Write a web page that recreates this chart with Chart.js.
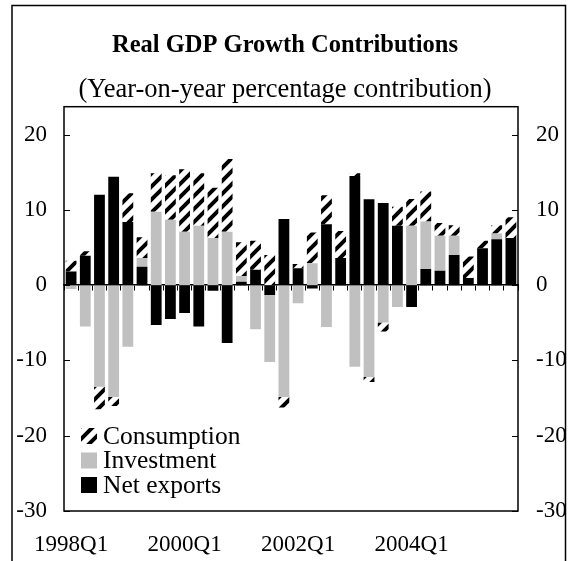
<!DOCTYPE html>
<html>
<head>
<meta charset="utf-8">
<script src="https://cdn.jsdelivr.net/npm/chart.js@4.4.1/dist/chart.umd.min.js"></script>
<style>
html,body{margin:0;padding:0;background:#fff;}
#wrap{width:570px;height:561px;position:relative;}
</style>
</head>
<body>
<div id="wrap"><canvas id="c" width="570" height="561"></canvas></div>
<script>
const categories = [
  '1998Q1','1998Q2','1998Q3','1998Q4','1999Q1','1999Q2','1999Q3','1999Q4',
  '2000Q1','2000Q2','2000Q3','2000Q4','2001Q1','2001Q2','2001Q3','2001Q4',
  '2002Q1','2002Q2','2002Q3','2002Q4','2003Q1','2003Q2','2003Q3','2003Q4',
  '2004Q1','2004Q2','2004Q3','2004Q4','2005Q1','2005Q2','2005Q3','2005Q4'
];
const xTickLabels = ['1998Q1','2000Q1','2002Q1','2004Q1'];
const yTickValues = [-30, -20, -10, 0, 10, 20];

const netExports = [
  1.8, 3.9, 12.0, 14.4, 8.4, 2.45, -5.3, -4.5,
  -3.7, -5.5, -0.75, -7.7, 0.45, 2.05, -1.3, 8.8,
  2.25, -0.45, 8.1, 3.6, 14.5, 11.4, 10.9, 7.9,
  -2.9, 2.15, 1.9, 4.0, 0.95, 4.9, 6.1, 6.25
];
const investment = [
  -0.5, -5.5, -13.5, -14.85, -8.2, 1.15, 9.75, 8.7,
  7.1, 7.9, 6.25, 7.1, 0.75, -5.85, -8.9, -14.85,
  -2.4, 2.9, -5.55, 0, -10.85, -12.2, -4.95, -2.9,
  7.9, 6.3, 4.65, 2.55, 0, 0, 0.75, 0
];
const consumption = [
  1.45, 0.6, -3.0, -1.2, 3.8, 2.75, 5.1, 5.9,
  8.3, 6.95, 6.7, 9.65, 4.5, 3.85, 4.0, -1.4,
  0.55, 4.1, 3.85, 3.6, 0.35, -0.65, -1.2, 2.5,
  3.55, 4.0, 1.7, 1.4, 2.85, 1.0, 1.1, 2.75
];

const SERIF = "'Liberation Serif', 'Times New Roman', serif";
Chart.defaults.font.family = SERIF;
Chart.defaults.color = '#000';

const canvas = document.getElementById('c');
const ctx0 = canvas.getContext('2d');

function makeHatch() {
  const s = 13;
  const t = document.createElement('canvas');
  t.width = s; t.height = s;
  const g = t.getContext('2d');
  g.fillStyle = '#fff';
  g.fillRect(0, 0, s, s);
  g.strokeStyle = '#000';
  g.lineWidth = 4;
  g.beginPath();
  g.moveTo(-1, s + 1); g.lineTo(s + 1, -1);
  g.moveTo(-s / 2 - 1, s / 2 + 1); g.lineTo(s / 2 + 1, -s / 2 - 1);
  g.moveTo(s / 2 - 1, s * 1.5 + 1); g.lineTo(s * 1.5 + 1, s / 2 - 1);
  g.stroke();
  return ctx0.createPattern(t, 'repeat');
}
const hatch = makeHatch();

const framePlugin = {
  id: 'frame',
  beforeDraw(chart) {
    const c = chart.ctx;
    c.save();
    c.fillStyle = '#fff';
    c.fillRect(0, 0, chart.width, chart.height);
    c.strokeStyle = '#000';
    c.lineWidth = 1.5;
    c.strokeRect(12, 5.5, 553.5, 600);
    c.restore();
  },
  afterDraw(chart) {
    const c = chart.ctx;
    const a = chart.chartArea;
    const ys = chart.scales.y;
    c.save();
    c.strokeStyle = '#000';
    c.lineWidth = 1.5;
    c.strokeRect(a.left, a.top, a.right - a.left, a.bottom - a.top);
    c.lineWidth = 1;
    c.beginPath();
    yTickValues.forEach(v => {
      const y = Math.round(ys.getPixelForValue(v)) + 0.5;
      c.moveTo(a.left, y); c.lineTo(a.left + 6, y);
      c.moveTo(a.right - 6, y); c.lineTo(a.right, y);
    });
    c.stroke();
    // legend
    const ds = chart.data.datasets.slice().reverse();
    const x0 = 81, size = 16;
    const y0 = 436, step = 24.5;
    c.font = '25.5px ' + SERIF;
    c.textBaseline = 'middle';
    c.textAlign = 'left';
    ds.forEach((d, i) => {
      const yc = y0 + i * step;
      c.fillStyle = d.backgroundColor;
      c.fillRect(x0, yc - size / 2, size, size);
      c.fillStyle = '#000';
      c.fillText(d.label, x0 + 22, yc + 1);
    });
    c.restore();
  }
};

new Chart(canvas, {
  type: 'bar',
  data: {
    labels: categories,
    datasets: [
      { label: 'Net exports', data: netExports, backgroundColor: '#000000', borderWidth: 0 },
      { label: 'Investment', data: investment, backgroundColor: '#c0c0c0', borderWidth: 0 },
      { label: 'Consumption', data: consumption, backgroundColor: hatch, borderWidth: 0 }
    ]
  },
  options: {
    responsive: false,
    animation: false,
    devicePixelRatio: 1,
    layout: { padding: 0 },
    datasets: { bar: { barPercentage: 0.76, categoryPercentage: 1.0 } },
    plugins: {
      legend: { display: false },
      tooltip: { enabled: false },
      title: {
        display: true,
        text: 'Real GDP Growth Contributions',
        font: { size: 24.5, weight: 'bold', family: SERIF },
        color: '#000',
        padding: { top: 31, bottom: 0 }
      },
      subtitle: {
        display: true,
        text: '(Year-on-year percentage contribution)',
        font: { size: 26.5, weight: 'normal', family: SERIF },
        color: '#000',
        padding: { top: 14, bottom: 0.5 }
      }
    },
    scales: {
      x: {
        stacked: true,
        offset: true,
        grid: { display: false, drawTicks: false },
        border: { display: false },
        ticks: {
          autoSkip: false,
          maxRotation: 0,
          minRotation: 0,
          padding: 20,
          font: { size: 23 },
          callback: (v, i) => xTickLabels.includes(categories[i]) ? categories[i] : ''
        },
        afterFit: s => { s.height = 50; }
      },
      xZero: {
        type: 'category',
        position: { y: 0 },
        offset: true,
        z: 1,
        grid: { display: true, drawOnChartArea: false, drawTicks: true, tickLength: 5, offset: true, color: '#000', lineWidth: 1 },
        border: { display: true, color: '#000', width: 1.5 },
        ticks: { display: false }
      },
      y: {
        stacked: true,
        position: 'left',
        min: -30,
        max: 23.7,
        afterBuildTicks: s => { s.ticks = yTickValues.map(v => ({ value: v })); },
        grid: { display: false, drawTicks: false },
        border: { display: false },
        ticks: { padding: 17, font: { size: 23 }, callback: v => String(v) },
        afterFit: s => { s.width = 64; }
      },
      y2: {
        position: 'right',
        min: -30,
        max: 23.7,
        afterBuildTicks: s => { s.ticks = yTickValues.map(v => ({ value: v })); },
        grid: { display: false, drawTicks: false },
        border: { display: false },
        ticks: { padding: 18, font: { size: 23 }, callback: v => String(v) },
        afterFit: s => { s.width = 52; }
      }
    }
  },
  plugins: [framePlugin]
});
</script>
</body>
</html>
